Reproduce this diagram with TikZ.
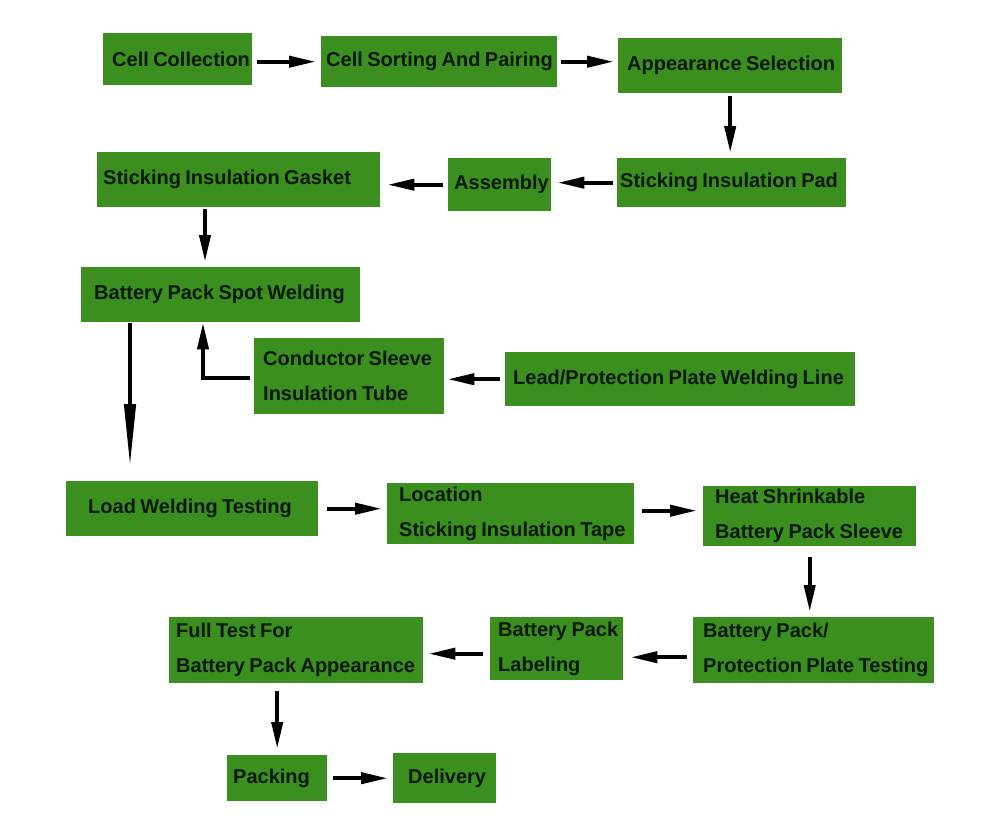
\documentclass[tikz,border=0pt]{standalone}
\usepackage{fontspec}
\setmainfont{Liberation Sans}
\usetikzlibrary{arrows.meta,calc}
\definecolor{boxgreen}{RGB}{58,143,30}
\definecolor{txt}{RGB}{12,24,10}
\newcommand\padl[2]{\hspace*{#1}\mbox{\spaceskip=4.4pt\relax #2}}
\hbadness=10000
\hfuzz=100pt
\begin{document}
\begin{tikzpicture}[x=1pt,y=-1pt,
  box/.style={fill=boxgreen, draw=none, anchor=north west, inner xsep=0pt, inner ysep=0pt,
              align=left, text=txt, font=\fontsize{20}{35}\selectfont\bfseries},
  arr/.style={draw=black, line width=4pt, -{Triangle[length=27pt,width=11pt]}},
  longarr/.style={draw=black, line width=4.5pt, -{Triangle[length=64pt,width=11pt]}}]
\useasboundingbox[fill=white] (0,0) rectangle (1000,829);
% row 1
\node[box, text width=149pt, minimum height=52pt] (n1) at (103,33) {\padl{9pt}{Cell Collection}};
\node[box, text width=236pt, minimum height=51pt] (n2) at (321,36) {\padl{5pt}{Cell Sorting And Pairing}};
\node[box, text width=224pt, minimum height=55pt] (n3) at (618,38) {\padl{9pt}{Appearance Selection}};
% row 2
\node[box, text width=229pt, minimum height=49pt] (n4) at (617,158) {\padl{3pt}{Sticking Insulation Pad}};
\node[box, text width=103pt, minimum height=53pt] (n5) at (448,158) {\padl{6pt}{Assembly}};
\node[box, text width=283pt, minimum height=55pt] (n6) at (97,152) {\padl{6pt}{Sticking Insulation Gasket}};
% row 3
\node[box, text width=279pt, minimum height=55pt] (n7) at (81,267) {\padl{13pt}{Battery Pack Spot Welding}};
\node[box, text width=190pt, minimum height=76pt] (n8) at (254,338) {\padl{9pt}{Conductor Sleeve}\\\padl{9pt}{Insulation Tube}};
\node[box, text width=350pt, minimum height=54pt] (n9) at (505,352) {\padl{8pt}{Lead/Protection Plate Welding Line}};
% row 4
\node[box, text width=252pt, minimum height=55pt] (n10) at (66,481) {\padl{22pt}{Load Welding Testing}};
\node[box, text width=247pt, minimum height=61pt] (n11) at (387,483) {\padl{12pt}{Location}\\\padl{12pt}{Sticking Insulation Tape}};
\node[box, text width=213pt, minimum height=60pt] (n12) at (703,486) {\padl{12pt}{Heat Shrinkable}\\\padl{12pt}{Battery Pack Sleeve}};
% row 5
\node[box, text width=241pt, minimum height=66pt] (n13) at (693,617) {\padl{10pt}{Battery Pack/}\\\padl{10pt}{Protection Plate Testing}};
\node[box, text width=133pt, minimum height=63pt] (n14) at (490,617) {\padl{8pt}{Battery Pack}\\\padl{8pt}{Labeling}};
\node[box, text width=254pt, minimum height=66pt] (n15) at (169,617) {\padl{7pt}{Full Test For}\\\padl{7pt}{Battery Pack Appearance}};
% row 6
\node[box, text width=100pt, minimum height=46pt] (n16) at (227,755) {\padl{6pt}{Packing}};
\node[box, text width=103pt, minimum height=50pt] (n17) at (393,753) {\padl{15pt}{Delivery}};
% connectors
\draw[arr, shorten <=5pt, shorten >=5pt] (n2.west -| n1.east) -- (n2.west);
\draw[arr, shorten <=4pt, shorten >=4pt] (n2.east) -- (n2.east -| n3.west);
\draw[arr, shorten <=3pt, shorten >=5pt] (n3.south) -- (n3.south |- n4.north);
\draw[arr, shorten <=4pt, shorten >=6pt] (n4.west) -- (n4.west -| n5.east);
\draw[arr, shorten <=5pt, shorten >=7pt] (n5.west) -- (n5.west -| n6.east);
\draw[arr, shorten <=2pt, shorten >=5pt] ([xshift=108pt]n6.south west) -- ([xshift=108pt]n6.south west |- n7.north);
\draw[arr, shorten <=5pt, shorten >=3pt] (n9.west) -- (n9.west -| n8.east);
\draw[arr, shorten <=4pt, shorten >=0pt] ([yshift=-2pt]n8.west) -| ([xshift=122pt]n7.south west);
\draw[longarr, shorten <=1pt, shorten >=13pt] ([xshift=49pt]n7.south west) -- ([xshift=49pt]n7.south west |- n10.north);
\draw[arr, shorten <=9pt, shorten >=5pt] (n10.east) -- (n10.east -| n11.west);
\draw[arr, shorten <=8pt, shorten >=6pt] ([yshift=3pt]n11.east) -- ([yshift=3pt]n11.east -| n12.west);
\draw[arr, shorten <=11pt, shorten >=5pt] (n12.south) -- (n12.south |- n13.north);
\draw[arr, shorten <=6pt, shorten >=7pt] ([yshift=-7pt]n13.west) -- ([yshift=-7pt]n13.west -| n14.east);
\draw[arr, shorten <=7pt, shorten >=5pt] ([yshift=-5pt]n14.west) -- ([yshift=-5pt]n14.west -| n15.east);
\draw[arr, shorten <=8pt, shorten >=6pt] (n16.north |- n15.south) -- (n16.north);
\draw[arr, shorten <=6pt, shorten >=5pt] (n16.east) -- (n16.east -| n17.west);
\end{tikzpicture}
\end{document}
